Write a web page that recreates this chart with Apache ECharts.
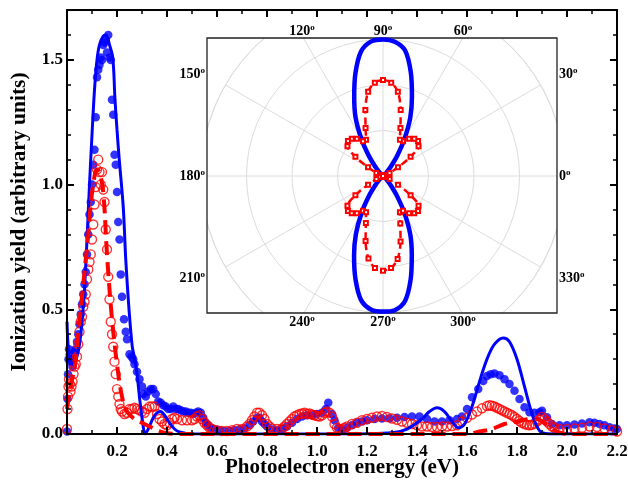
<!DOCTYPE html>
<html><head><meta charset="utf-8">
<script src="https://cdn.jsdelivr.net/npm/echarts@6/dist/echarts.min.js"></script>
<style>html,body{margin:0;padding:0;background:#fff}#c{width:628px;height:481px}</style>
</head><body><div id="c"></div>
<script>
// ---------- main chart data ----------
const blueDotsX = [0.0,0.002,0.004,0.006,0.008,0.011,0.014,0.018,0.022,0.026,0.03,0.035,0.04,0.045,0.05,0.055,0.06,0.065,0.07,0.075,0.08,0.085,0.09,0.095,0.1,0.105,0.11,0.115,0.12,0.125,0.13,0.135,0.14,0.145,0.15,0.155,0.16,0.165,0.17,0.175,0.18,0.185,0.19,0.195,0.2,0.205,0.21,0.215,0.22,0.228,0.235,0.24,0.25,0.258,0.265,0.27,0.28,0.29,0.3,0.305,0.315,0.325,0.335,0.345,0.355,0.365,0.375,0.385,0.395,0.405,0.415,0.425,0.435,0.445,0.455,0.465,0.475,0.485,0.495,0.505,0.515,0.525,0.535,0.545,0.555,0.565,0.575,0.59,0.61,0.63,0.65,0.67,0.69,0.71,0.73,0.745,0.76,0.77,0.78,0.79,0.8,0.82,0.84,0.86,0.88,0.9,0.92,0.94,0.96,0.98,1.0,1.02,1.035,1.045,1.06,1.07,1.085,1.1,1.12,1.14,1.16,1.18,1.2,1.23,1.26,1.29,1.32,1.35,1.38,1.41,1.44,1.47,1.5,1.53,1.56,1.58,1.6,1.62,1.645,1.665,1.68,1.695,1.71,1.73,1.75,1.77,1.79,1.81,1.83,1.85,1.87,1.89,1.9,1.92,1.94,1.97,2.0,2.03,2.06,2.09,2.11,2.13,2.15,2.17,2.19,2.2];
const blueDotsY = [0.01,0.14,0.24,0.3,0.34,0.32,0.29,0.3,0.27,0.3,0.33,0.34,0.37,0.4,0.44,0.48,0.52,0.56,0.6,0.65,0.72,0.8,0.88,0.93,1.0,1.08,1.14,1.27,1.43,1.46,1.48,1.51,1.5,1.56,1.57,1.58,1.53,1.6,1.51,1.5,1.34,1.28,1.12,1.08,0.97,0.85,0.78,0.64,0.55,0.46,0.41,0.38,0.32,0.31,0.3,0.28,0.25,0.22,0.19,0.16,0.15,0.17,0.18,0.18,0.16,0.13,0.125,0.115,0.11,0.1,0.1,0.11,0.1,0.1,0.095,0.09,0.09,0.085,0.085,0.08,0.085,0.09,0.085,0.065,0.045,0.035,0.025,0.02,0.015,0.012,0.012,0.015,0.018,0.022,0.035,0.05,0.065,0.065,0.05,0.04,0.03,0.018,0.015,0.02,0.03,0.045,0.06,0.07,0.075,0.075,0.08,0.085,0.1,0.125,0.08,0.055,0.025,0.015,0.025,0.035,0.045,0.05,0.055,0.06,0.062,0.063,0.065,0.068,0.07,0.07,0.06,0.05,0.05,0.055,0.06,0.07,0.1,0.147,0.18,0.213,0.233,0.24,0.243,0.236,0.22,0.2,0.173,0.14,0.107,0.087,0.085,0.087,0.093,0.067,0.04,0.035,0.035,0.038,0.042,0.047,0.045,0.04,0.035,0.027,0.022,0.02];

const redCircX = [0.0,0.002,0.004,0.006,0.008,0.011,0.014,0.018,0.022,0.026,0.03,0.035,0.04,0.045,0.05,0.055,0.06,0.065,0.07,0.075,0.08,0.085,0.09,0.095,0.1,0.105,0.11,0.115,0.12,0.125,0.13,0.135,0.14,0.145,0.15,0.155,0.16,0.165,0.17,0.175,0.18,0.185,0.19,0.195,0.2,0.205,0.21,0.215,0.22,0.23,0.24,0.25,0.26,0.27,0.28,0.29,0.3,0.31,0.32,0.33,0.34,0.35,0.36,0.37,0.38,0.39,0.4,0.41,0.42,0.43,0.44,0.46,0.48,0.5,0.51,0.52,0.53,0.54,0.55,0.56,0.57,0.58,0.6,0.62,0.64,0.66,0.68,0.7,0.72,0.73,0.74,0.75,0.76,0.77,0.78,0.79,0.8,0.81,0.82,0.84,0.86,0.87,0.88,0.89,0.9,0.91,0.92,0.93,0.94,0.95,0.96,0.97,0.98,0.99,1.0,1.01,1.02,1.03,1.04,1.05,1.06,1.07,1.08,1.09,1.1,1.11,1.12,1.14,1.16,1.18,1.2,1.22,1.24,1.26,1.28,1.3,1.32,1.34,1.36,1.38,1.4,1.42,1.44,1.46,1.48,1.5,1.52,1.54,1.56,1.58,1.6,1.62,1.64,1.66,1.68,1.69,1.7,1.71,1.72,1.73,1.74,1.75,1.76,1.77,1.78,1.79,1.8,1.81,1.82,1.83,1.84,1.85,1.86,1.87,1.88,1.89,1.9,1.91,1.92,1.93,1.94,1.95,1.97,2.0,2.03,2.06,2.09,2.12,2.15,2.18,2.2];
const redCircY = [0.02,0.1,0.15,0.19,0.22,0.2,0.17,0.19,0.21,0.24,0.27,0.28,0.31,0.36,0.41,0.45,0.47,0.51,0.53,0.56,0.62,0.66,0.69,0.72,0.78,0.84,0.92,0.99,1.06,1.1,1.05,1.0,1.05,0.98,0.93,0.82,0.74,0.63,0.54,0.45,0.4,0.35,0.29,0.24,0.18,0.15,0.12,0.1,0.09,0.08,0.085,0.1,0.1,0.105,0.1,0.095,0.09,0.085,0.1,0.11,0.11,0.11,0.08,0.06,0.05,0.04,0.035,0.045,0.06,0.065,0.06,0.055,0.055,0.055,0.06,0.07,0.075,0.06,0.045,0.035,0.025,0.02,0.015,0.012,0.012,0.015,0.02,0.02,0.03,0.04,0.055,0.07,0.085,0.085,0.075,0.06,0.04,0.03,0.022,0.02,0.022,0.03,0.04,0.05,0.06,0.07,0.075,0.08,0.082,0.085,0.08,0.082,0.078,0.075,0.072,0.07,0.075,0.085,0.09,0.085,0.07,0.04,0.025,0.02,0.02,0.025,0.03,0.04,0.045,0.055,0.06,0.065,0.07,0.072,0.068,0.062,0.057,0.05,0.045,0.04,0.035,0.03,0.03,0.028,0.028,0.03,0.03,0.032,0.035,0.05,0.065,0.078,0.09,0.103,0.112,0.115,0.113,0.11,0.105,0.1,0.095,0.09,0.085,0.08,0.075,0.068,0.06,0.052,0.045,0.04,0.037,0.035,0.037,0.042,0.05,0.058,0.068,0.06,0.05,0.04,0.03,0.025,0.02,0.02,0.022,0.025,0.03,0.028,0.022,0.015,0.01];

const blueLineX = [0,0.004,0.01,0.02,0.03,0.04,0.05,0.06,0.07,0.08,0.09,0.1,0.11,0.12,0.13,0.145,0.156,0.17,0.183,0.192,0.2,0.209,0.225,0.235,0.248,0.261,0.267,0.279,0.292,0.305,0.312,0.325,0.345,0.36,0.375,0.39,0.41,0.43,0.45,0.5,0.7,0.9,1.1,1.3,1.36,1.42,1.45,1.48,1.51,1.54,1.565,1.59,1.62,1.65,1.68,1.71,1.745,1.77,1.8,1.83,1.86,1.88,1.9,1.95,2.2];
const blueLineY = [0.45,0.36,0.3,0.28,0.29,0.31,0.36,0.45,0.58,0.78,1.0,1.2,1.38,1.5,1.56,1.595,1.6,1.56,1.51,1.34,1.22,1.1,0.91,0.7,0.5,0.35,0.32,0.25,0.13,0.03,0.0,0.02,0.065,0.085,0.09,0.075,0.045,0.02,0.008,0.0,0,0,0,0.005,0.02,0.06,0.09,0.105,0.09,0.05,0.025,0.04,0.11,0.21,0.3,0.36,0.385,0.37,0.3,0.19,0.08,0.03,0.005,0,0];

const redLineX = [0,0.01,0.02,0.03,0.045,0.06,0.072,0.085,0.095,0.105,0.119,0.13,0.145,0.16,0.18,0.2,0.22,0.24,0.27,0.3,0.33,0.37,0.4,0.45,0.8,1.2,1.6,1.65,1.7,1.75,1.8,1.85,1.88,1.9,1.93,1.96,2.0,2.2];
const redLineY = [0.1,0.17,0.22,0.26,0.4,0.55,0.67,0.8,0.92,1.0,1.06,1.05,0.97,0.72,0.46,0.28,0.15,0.09,0.06,0.045,0.03,0.012,0.003,0,0,0,0,0.01,0.02,0.04,0.05,0.06,0.06,0.05,0.03,0.01,0,0];

// ---------- inset (polar) data ----------
const polarAngles = [0,5,10,15,20,25,30,35,40,45,50,55,60,65,70,75,80,85,90,95,100,105,110,115,120,125,130,135,140,145,150,155,160,165,170,175,180,185,190,195,200,205,210,215,220,225,230,235,240,245,250,255,260,265,270,275,280,285,290,295,300,305,310,315,320,325,330,335,340,345,350,355,360];
const blueR = [0,0,0,0,0,0,0,0.01,0.03,0.1,0.26,0.55,0.95,1.42,1.86,2.36,2.8,2.96,3.0,2.97,2.78,2.34,1.85,1.43,0.96,0.55,0.27,0.1,0.03,0.01,0,0,0,0,0,0,0,0,0,0,0,0,0,0.01,0.03,0.1,0.26,0.55,0.95,1.41,1.86,2.34,2.77,2.95,2.98,2.96,2.79,2.35,1.85,1.42,0.95,0.54,0.26,0.1,0.03,0.01,0,0,0,0,0,0,0];
const redR = [0,0.01,0.02,0.04,0.07,0.16,0.38,0.74,1.02,1.09,1.07,1.0,0.88,0.88,1.12,1.5,1.88,2.06,2.11,2.06,1.88,1.5,1.12,0.88,0.88,1.0,1.07,1.09,1.02,0.74,0.38,0.16,0.07,0.04,0.02,0.01,0,0.01,0.02,0.04,0.07,0.16,0.38,0.74,1.02,1.09,1.07,1.0,0.88,0.88,1.1,1.48,1.84,2.03,2.08,2.03,1.85,1.49,1.11,0.88,0.88,1.0,1.07,1.09,1.02,0.74,0.38,0.16,0.07,0.04,0.02,0.01,0];
const angleLabels = ['0','30','60','90','120','150','180','210','240','270','300','330'];

// ---------- build ----------
const zip = (a, b) => a.map((v, i) => [v, b[i]]);
const SERIF = 'Liberation Serif';
const chart = echarts.init(document.getElementById('c'), null, {renderer: 'canvas'});

const PC = [383, 176];   // inset polar centre
const BOX = {x: 207, y: 38, w: 350, h: 275};
// label anchor layout per angle label (index matches angleLabels)
const labelPos = [
  [559,176,'left'],[559,74,'left'],[463,31,'center'],[383,31,'center'],[302,31,'center'],[205,74,'right'],
  [205,176,'right'],[205,278,'right'],[302,322,'center'],[383,322,'center'],[463,322,'center'],[559,278,'left']
];

const axisCommon = (pos) => ({
  position: pos,
  axisLine: {show: true, onZero: false, lineStyle: {color: '#000', width: 2}},
  axisTick: {show: true, inside: true, length: 7, lineStyle: {color: '#000', width: 2}},
  splitLine: {show: false},
  z: 20
});

const graphic = [];
const R = 190;
// masks hiding polar grid outside the inset frame
graphic.push({type: 'rect', z: 5, silent: true, shape: {x: PC[0]-R, y: 0, width: 2*R, height: BOX.y}, style: {fill: '#fff'}});
graphic.push({type: 'rect', z: 5, silent: true, shape: {x: PC[0]-R, y: BOX.y+BOX.h, width: 2*R, height: PC[1]+R-(BOX.y+BOX.h)}, style: {fill: '#fff'}});
graphic.push({type: 'rect', z: 5, silent: true, shape: {x: PC[0]-R, y: 0, width: BOX.x-(PC[0]-R), height: PC[1]+R}, style: {fill: '#fff'}});
graphic.push({type: 'rect', z: 5, silent: true, shape: {x: BOX.x+BOX.w, y: 0, width: PC[0]+R-(BOX.x+BOX.w), height: PC[1]+R}, style: {fill: '#fff'}});
graphic.push({type: 'rect', z: 8, silent: true, shape: {x: BOX.x, y: BOX.y, width: BOX.w, height: BOX.h}, style: {fill: 'none', stroke: '#222', lineWidth: 1.3}});
angleLabels.forEach((t, i) => {
  const p = labelPos[i];
  graphic.push({type: 'text', z: 21, silent: true, x: p[0], y: p[1], style: {
    text: '{a|' + t + '}{s|o}', align: p[2], verticalAlign: 'middle',
    rich: {
      a: {fontFamily: SERIF, fontWeight: 'bold', fontSize: 14, color: '#000', lineHeight: 15},
      s: {fontFamily: SERIF, fontWeight: 'bold', fontSize: 9, color: '#000', verticalAlign: 'top', lineHeight: 15}
    }}});
});

const option = {
  animation: false,
  backgroundColor: '#fff',
  grid: {left: 67, right: 11, top: 10, bottom: 47, containLabel: false, outerBoundsMode: 'none'},
  polar: {center: PC, radius: 182},
  angleAxis: {
    type: 'value', min: 0, max: 360, interval: 30, startAngle: 0, clockwise: false, z: 1,
    axisLine: {show: true, lineStyle: {color: '#dcdcdc', width: 1}},
    axisTick: {show: false}, axisLabel: {show: false},
    splitLine: {show: true, lineStyle: {color: '#dcdcdc', width: 1}}
  },
  radiusAxis: {
    type: 'value', min: 0, max: 4, interval: 1, z: 1,
    axisLine: {show: false}, axisTick: {show: false}, axisLabel: {show: false},
    splitLine: {show: true, lineStyle: {color: '#dcdcdc', width: 1}}
  },
  xAxis: [
    Object.assign(axisCommon('bottom'), {
      type: 'value', min: 0, max: 2.2, interval: 0.2,
      minorTick: {show: true, splitNumber: 2, length: 4, lineStyle: {color: '#000', width: 1.5}},
      axisLabel: {show: true, margin: 9, color: '#000', fontFamily: SERIF, fontWeight: 'bold', fontSize: 17,
        formatter: v => (Math.abs(v) < 1e-9 ? '' : v.toFixed(1))},
      name: 'Photoelectron energy (eV)', nameLocation: 'middle', nameGap: 23, nameMoveOverlap: false,
      nameTextStyle: {color: '#000', fontFamily: SERIF, fontWeight: 'bold', fontSize: 21}
    }),
    Object.assign(axisCommon('top'), {
      type: 'value', min: 0, max: 2.2, interval: 0.2,
      minorTick: {show: true, splitNumber: 2, length: 4, lineStyle: {color: '#000', width: 1.5}},
      axisLabel: {show: false}
    })
  ],
  yAxis: [
    Object.assign(axisCommon('left'), {
      type: 'value', min: 0, max: 1.7, interval: 0.5,
      minorTick: {show: true, splitNumber: 5, length: 4, lineStyle: {color: '#000', width: 1.5}},
      axisLabel: {show: true, margin: 4, color: '#000', fontFamily: SERIF, fontWeight: 'bold', fontSize: 17,
        showMaxLabel: false, formatter: v => v.toFixed(1)},
      name: 'Ionization yield (arbitrary units)', nameLocation: 'middle', nameGap: 36,
      nameTextStyle: {color: '#000', fontFamily: SERIF, fontWeight: 'bold', fontSize: 21.5}
    }),
    Object.assign(axisCommon('right'), {
      type: 'value', min: 0, max: 1.7, interval: 0.5,
      minorTick: {show: true, splitNumber: 5, length: 4, lineStyle: {color: '#000', width: 1.5}},
      axisLabel: {show: false}
    })
  ],
  graphic: graphic,
  series: [
    {type: 'scatter', name: 'exp strong', xAxisIndex: 0, yAxisIndex: 0, z: 10,
     data: zip(blueDotsX, blueDotsY), symbol: 'circle', symbolSize: 8.5, itemStyle: {color: '#0000ff'}},
    {type: 'scatter', name: 'exp weak', xAxisIndex: 0, yAxisIndex: 0, z: 11,
     data: zip(redCircX, redCircY), symbol: 'circle', symbolSize: 9,
     itemStyle: {color: 'rgba(255,255,255,0)', borderColor: '#ff0000', borderWidth: 1.4}},
    {type: 'line', name: 'theory strong', xAxisIndex: 0, yAxisIndex: 0, z: 12,
     data: zip(blueLineX, blueLineY), smooth: 0.35, showSymbol: false,
     lineStyle: {color: '#0000ff', width: 3}},
    {type: 'line', name: 'theory weak', xAxisIndex: 0, yAxisIndex: 0, z: 13,
     data: zip(redLineX, redLineY), smooth: 0.35, showSymbol: false,
     lineStyle: {color: '#ff0000', width: 4, type: [14, 7]}},
    {type: 'line', coordinateSystem: 'polar', polarIndex: 0, z: 9,
     data: zip(blueR, polarAngles), smooth: 0.3, showSymbol: false,
     lineStyle: {color: '#0000ff', width: 4.5}},
    {type: 'line', coordinateSystem: 'polar', polarIndex: 0, z: 9,
     data: zip(redR, polarAngles), smooth: 0.3, showSymbol: true, symbol: 'emptyRect', symbolSize: 4,
     itemStyle: {color: '#ff0000', borderWidth: 1},
     lineStyle: {color: '#ff0000', width: 2.5, type: [7, 4]}}
  ]
};
chart.setOption(option);
</script></body></html>
